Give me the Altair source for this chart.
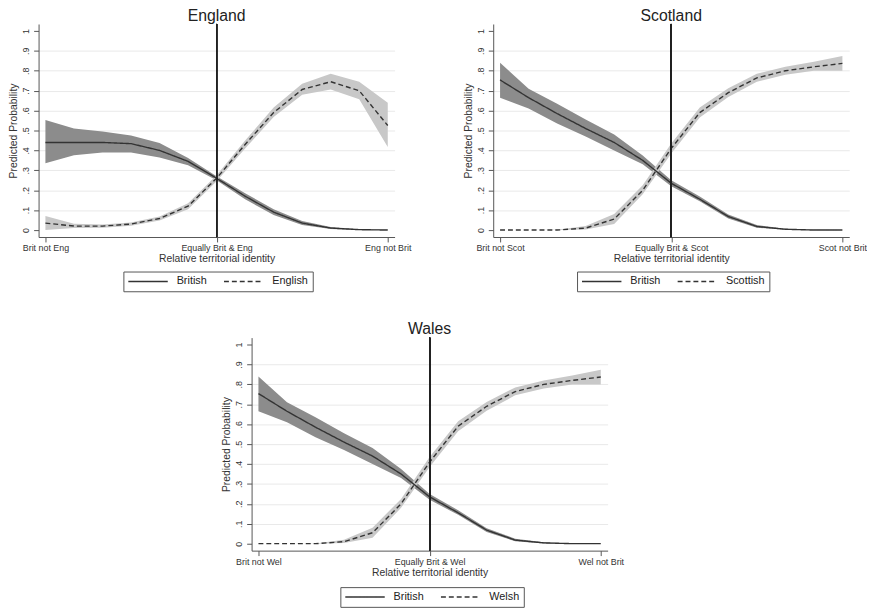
import altair as alt
import pandas as pd

# ---------------- data ----------------
x_pos = list(range(13))  # 0 = "Brit not X", 6 = "Equally", 12 = "X not Brit"

countries = ["England", "Scotland", "Wales"]
other_series = ["English", "Scottish", "Welsh"]
x_tick_labels = [
    ["Brit not Eng", "Equally Brit & Eng", "Eng not Brit"],
    ["Brit not Scot", "Equally Brit & Scot", "Scot not Brit"],
    ["Brit not Wel", "Equally Brit & Wel", "Wel not Brit"],
]

# England
eng_brit = [0.44, 0.44, 0.44, 0.434, 0.40, 0.345, 0.26, 0.17, 0.09, 0.035, 0.01, 0.002, 0.0]
eng_brit_lo = [0.335, 0.376, 0.39, 0.39, 0.365, 0.325, 0.25, 0.155, 0.075, 0.025, 0.005, 0.0, 0.0]
eng_brit_hi = [0.553, 0.51, 0.495, 0.475, 0.437, 0.362, 0.27, 0.185, 0.105, 0.045, 0.015, 0.004, 0.001]
eng_oth = [0.035, 0.02, 0.02, 0.03, 0.058, 0.12, 0.26, 0.43, 0.59, 0.706, 0.745, 0.70, 0.525]
eng_oth_lo = [0.0, 0.01, 0.012, 0.022, 0.048, 0.105, 0.245, 0.41, 0.568, 0.68, 0.706, 0.657, 0.417]
eng_oth_hi = [0.07, 0.032, 0.028, 0.038, 0.068, 0.135, 0.275, 0.45, 0.615, 0.735, 0.785, 0.745, 0.64]

# Scotland
sco_brit = [0.754, 0.665, 0.585, 0.51, 0.44, 0.35, 0.235, 0.155, 0.068, 0.018, 0.004, 0.0, 0.0]
sco_brit_lo = [0.665, 0.61, 0.535, 0.47, 0.40, 0.33, 0.22, 0.145, 0.058, 0.012, 0.001, 0.0, 0.0]
sco_brit_hi = [0.84, 0.71, 0.635, 0.555, 0.48, 0.375, 0.25, 0.168, 0.078, 0.025, 0.007, 0.001, 0.0]
sco_oth = [0.0, 0.0, 0.0, 0.01, 0.055, 0.2, 0.41, 0.59, 0.69, 0.764, 0.80, 0.82, 0.837]
sco_oth_lo = [0.0, 0.0, 0.0, 0.003, 0.03, 0.18, 0.385, 0.565, 0.668, 0.745, 0.78, 0.80, 0.80]
sco_oth_hi = [0.0, 0.0, 0.001, 0.02, 0.08, 0.225, 0.435, 0.615, 0.712, 0.785, 0.82, 0.845, 0.874]

# Wales
wal_brit = [0.754, 0.665, 0.585, 0.51, 0.44, 0.35, 0.235, 0.155, 0.068, 0.018, 0.004, 0.0, 0.0]
wal_brit_lo = [0.665, 0.61, 0.535, 0.47, 0.40, 0.33, 0.22, 0.145, 0.058, 0.012, 0.001, 0.0, 0.0]
wal_brit_hi = [0.84, 0.71, 0.635, 0.555, 0.48, 0.375, 0.25, 0.168, 0.078, 0.025, 0.007, 0.001, 0.0]
wal_oth = [0.0, 0.0, 0.0, 0.01, 0.055, 0.2, 0.41, 0.59, 0.69, 0.764, 0.80, 0.82, 0.837]
wal_oth_lo = [0.0, 0.0, 0.0, 0.003, 0.03, 0.18, 0.385, 0.565, 0.668, 0.745, 0.78, 0.80, 0.80]
wal_oth_hi = [0.0, 0.0, 0.001, 0.02, 0.08, 0.225, 0.435, 0.615, 0.712, 0.785, 0.82, 0.845, 0.874]

y_ticks = [0, 0.1, 0.2, 0.3, 0.4, 0.5, 0.6, 0.7, 0.8, 0.9, 1]

FONT = "Liberation Sans"
W, H = 361, 216


def panel(idx, brit, brit_lo, brit_hi, oth, oth_lo, oth_hi, legend_x, legend_y):
    name = countries[idx]
    other = other_series[idx]
    labels = x_tick_labels[idx]
    rows = []
    for i, x in enumerate(x_pos):
        rows.append(dict(x=x, series="British", mean=brit[i], lo=brit_lo[i], hi=brit_hi[i]))
        rows.append(dict(x=x, series=other, mean=oth[i], lo=oth_lo[i], hi=oth_hi[i]))
    df = pd.DataFrame(rows)

    label_expr = (f"datum.value == 0 ? '{labels[0]}' : datum.value == 6 ? "
                  f"'{labels[1]}' : '{labels[2]}'")
    xs = alt.Scale(domain=[-0.24, 12.24], nice=False, zero=False)
    ys = alt.Scale(domain=[-0.035, 1.035], nice=False, zero=False)
    xaxis = alt.Axis(values=[0, 6, 12], labelExpr=label_expr,
                     title="Relative territorial identity", grid=False,
                     labelFontSize=9, titleFontSize=10.5, labelPadding=2,
                     titlePadding=1, tickSize=5, labelFlush=False,
                     labelOverlap=False)
    yaxis = alt.Axis(values=y_ticks,
                     labelExpr="datum.value == 0 ? '0' : datum.value == 1 ? '1' : "
                               "replace(format(datum.value, '.1f'), '0.', '.')",
                     title="Predicted Probability", labelAngle=270,
                     labelFontSize=9, titleFontSize=10.5, labelPadding=3,
                     titlePadding=3, tickSize=5, grid=True, labelOverlap=False,
                     gridColor={"condition": {"test": "datum.value == 1 || datum.value == 0",
                                              "value": "transparent"},
                                "value": "#e9e9e9"})

    X = alt.X("x:Q", scale=xs, axis=xaxis)

    base = alt.Chart(df)
    band_b = base.transform_filter(alt.datum.series == "British").mark_area(
        color="#8c8c8c", opacity=1).encode(
        x=X, y=alt.Y("lo:Q", scale=ys, axis=yaxis), y2="hi:Q")
    band_o = base.transform_filter(alt.datum.series == other).mark_area(
        color="#c8c8c8", opacity=1).encode(
        x=X, y=alt.Y("lo:Q", scale=ys, axis=yaxis), y2="hi:Q")
    lines = base.mark_line(color="#333333", strokeWidth=1.4).encode(
        x=X, y=alt.Y("mean:Q", scale=ys, axis=yaxis),
        strokeDash=alt.StrokeDash(
            "series:N",
            scale=alt.Scale(domain=["British", other], range=[[1, 0], [5, 3]]),
            legend=alt.Legend(title=None, orient="none", legendX=legend_x,
                              legendY=legend_y, direction="horizontal",
                              symbolType="stroke", symbolSize=1600, clipHeight=12,
                              symbolStrokeWidth=1.5, symbolStrokeColor="#333333",
                              labelFontSize=11, labelFont=FONT, labelColor="#222222",
                              strokeColor="#555555", fillColor="white", padding=4,
                              columnPadding=16, labelOffset=8)))
    vline = base.mark_rule(color="#222222", strokeWidth=1).encode(x=X)
    vline = alt.Chart(df).mark_rule(color="#222222", strokeWidth=1).encode(
        x=alt.datum(6))

    return alt.layer(band_b, band_o, lines, vline).properties(
        width=W, height=H,
        title=alt.TitleParams(name, fontSize=16, font=FONT, fontWeight="normal",
                              color="#222222", offset=0))


eng = panel(0, eng_brit, eng_brit_lo, eng_brit_hi, eng_oth, eng_oth_lo, eng_oth_hi, 86, 251)
sco = panel(1, sco_brit, sco_brit_lo, sco_brit_hi, sco_oth, sco_oth_lo, sco_oth_hi, 85, 251)
wal = panel(2, wal_brit, wal_brit_lo, wal_brit_hi, wal_oth, wal_oth_lo, wal_oth_hi, 90, 253)

spacer = alt.Chart(pd.DataFrame({"a": [0]})).mark_point(opacity=0).properties(width=185, height=10)

top = alt.hconcat(eng, sco, spacing=52).resolve_scale(
    x="independent", y="independent", strokeDash="independent")
bottom = alt.hconcat(spacer, wal, spacing=0).resolve_scale(
    x="independent", y="independent", strokeDash="independent")

chart = alt.vconcat(top, bottom, spacing=29).resolve_scale(
    x="independent", y="independent", strokeDash="independent"
).properties(
    padding={"left": 0, "top": -5, "right": 0, "bottom": 0},
    background="white"
).configure_view(stroke=None).configure_axis(
    labelFont=FONT, titleFont=FONT, labelColor="#333333", titleColor="#333333",
    titleFontWeight="normal", domainColor="#555555", tickColor="#555555"
)

chart.save("out.html", embed_options={"renderer": "svg", "actions": False})
